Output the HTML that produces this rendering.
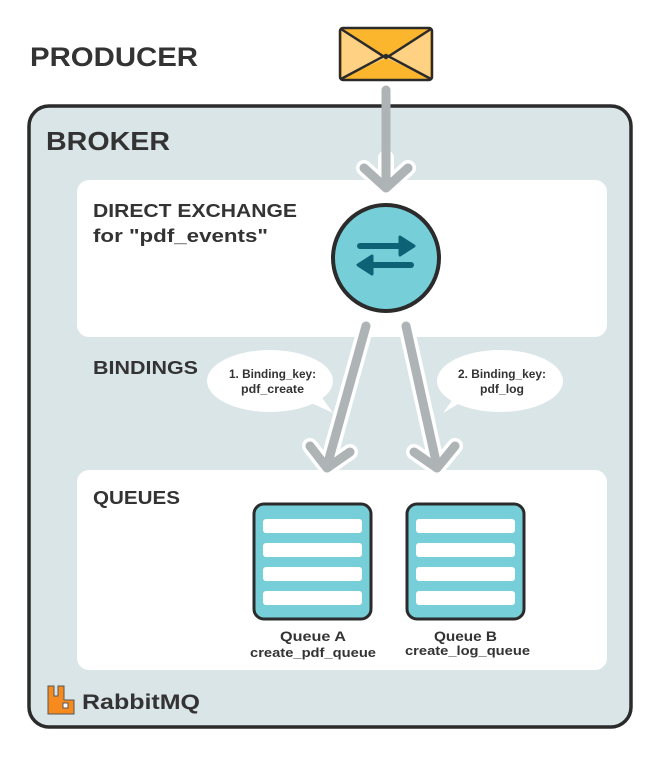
<!DOCTYPE html>
<html><head><style>body{margin:0;background:#fff}svg{display:block}text{font-family:"Liberation Sans",sans-serif;font-weight:bold;fill:#333}</style></head>
<body>
<svg width="659" height="760" viewBox="0 0 659 760">
<rect width="659" height="760" fill="#fff"/>
<text x="30" y="66" font-size="27" textLength="168" lengthAdjust="spacingAndGlyphs">PRODUCER</text>
<rect x="29" y="106" width="602" height="621" rx="20" fill="#dae5e8" stroke="#2b2b2b" stroke-width="3.5"/>
<text x="46" y="150" font-size="26" textLength="124" lengthAdjust="spacingAndGlyphs">BROKER</text>
<rect x="77" y="180" width="530" height="157" rx="12" fill="#fff"/>
<rect x="77" y="470" width="530" height="200" rx="12" fill="#fff"/>
<text x="93" y="217" font-size="18" textLength="204" lengthAdjust="spacingAndGlyphs">DIRECT EXCHANGE</text>
<text x="93" y="242" font-size="18" textLength="175" lengthAdjust="spacingAndGlyphs">for "pdf_events"</text>
<text x="93" y="374" font-size="18" textLength="105" lengthAdjust="spacingAndGlyphs">BINDINGS</text>
<text x="93" y="504" font-size="18" textLength="87" lengthAdjust="spacingAndGlyphs">QUEUES</text>
<!-- envelope -->
<rect x="340" y="28" width="92" height="52" rx="3" fill="#fbb62e" stroke="#2b2b2b" stroke-width="2.5"/>
<polygon points="342,30 386,58 342,78" fill="#fed282"/>
<polygon points="430,30 386,58 430,78" fill="#fed282"/>
<path d="M341,29 L386,58 L431,29 M341,79 L386,55 L431,79" fill="none" stroke="#2b2b2b" stroke-width="2.5"/>
<!-- arrows -->
<g stroke-linecap="round" stroke-linejoin="round" fill="none">
<g stroke="#fff" stroke-width="16">
<path d="M386,158 L386,185"/><path d="M364,168 L386,188 L408,168"/>
<path d="M366,326 L327,466 M310,446 L327,468 L350,452"/>
<path d="M406,326 L437,466 M414,452 L437,468 L455,446"/>
</g>
<g stroke="#aeb3b6" stroke-width="9">
<path d="M386,90 L386,185"/><path d="M364,168 L386,188 L408,168"/>
<path d="M366,326 L327,466 M310,446 L327,468 L350,452"/>
<path d="M406,326 L437,466 M414,452 L437,468 L455,446"/>
</g>
</g>
<!-- exchange circle -->
<circle cx="386" cy="258" r="53" fill="#76cfd8" stroke="#2b2b2b" stroke-width="4"/>
<g stroke="#0e6275" stroke-width="6" stroke-linecap="round" fill="#0e6275">
<line x1="360" y1="246" x2="402" y2="246"/><line x1="370" y1="265" x2="411" y2="265"/>
</g>
<polygon points="400,237 414,246 400,255" fill="#0e6275" stroke="#0e6275" stroke-width="3" stroke-linejoin="round"/>
<polygon points="372,256 358,265 372,274" fill="#0e6275" stroke="#0e6275" stroke-width="3" stroke-linejoin="round"/>
<!-- bubbles -->
<ellipse cx="270" cy="381" rx="63" ry="31" fill="#fff"/>
<polygon points="305,400 333,413 318,392" fill="#fff"/>
<text x="229" y="378" font-size="11.5" textLength="87" lengthAdjust="spacingAndGlyphs">1. Binding_key:</text>
<text x="241" y="393" font-size="11.5" textLength="63" lengthAdjust="spacingAndGlyphs">pdf_create</text>
<ellipse cx="500" cy="381" rx="63" ry="31" fill="#fff"/>
<polygon points="465,400 443,413 458,392" fill="#fff"/>
<text x="458" y="378" font-size="11.5" textLength="88" lengthAdjust="spacingAndGlyphs">2. Binding_key:</text>
<text x="480" y="393" font-size="11.5" textLength="44" lengthAdjust="spacingAndGlyphs">pdf_log</text>
<!-- queues -->
<g>
<rect x="254" y="504" width="117" height="115" rx="10" fill="#76cfd8" stroke="#2b2b2b" stroke-width="3"/>
<rect x="263" y="519" width="99" height="14" rx="3" fill="#fff"/>
<rect x="263" y="543" width="99" height="14" rx="3" fill="#fff"/>
<rect x="263" y="567" width="99" height="14" rx="3" fill="#fff"/>
<rect x="263" y="591" width="99" height="14" rx="3" fill="#fff"/>
<rect x="407" y="504" width="117" height="115" rx="10" fill="#76cfd8" stroke="#2b2b2b" stroke-width="3"/>
<rect x="416" y="519" width="99" height="14" rx="3" fill="#fff"/>
<rect x="416" y="543" width="99" height="14" rx="3" fill="#fff"/>
<rect x="416" y="567" width="99" height="14" rx="3" fill="#fff"/>
<rect x="416" y="591" width="99" height="14" rx="3" fill="#fff"/>
</g>
<text x="280" y="641" font-size="14" textLength="66" lengthAdjust="spacingAndGlyphs">Queue A</text>
<text x="250" y="657" font-size="12.5" textLength="126" lengthAdjust="spacingAndGlyphs">create_pdf_queue</text>
<text x="434" y="641" font-size="14" textLength="63" lengthAdjust="spacingAndGlyphs">Queue B</text>
<text x="405" y="655" font-size="12.5" textLength="125" lengthAdjust="spacingAndGlyphs">create_log_queue</text>
<!-- logo -->
<path d="M48,686 h6 v10 h4 v-10 h6 v14 h10 v14 h-26 z" fill="#f68a1e" stroke="#555" stroke-width="1"/>
<rect x="63" y="703" width="5" height="5" fill="#fff" stroke="#555" stroke-width="1"/>
<text x="82" y="709" font-size="21" fill="#222" textLength="118" lengthAdjust="spacingAndGlyphs">RabbitMQ</text>
</svg>
</body></html>
